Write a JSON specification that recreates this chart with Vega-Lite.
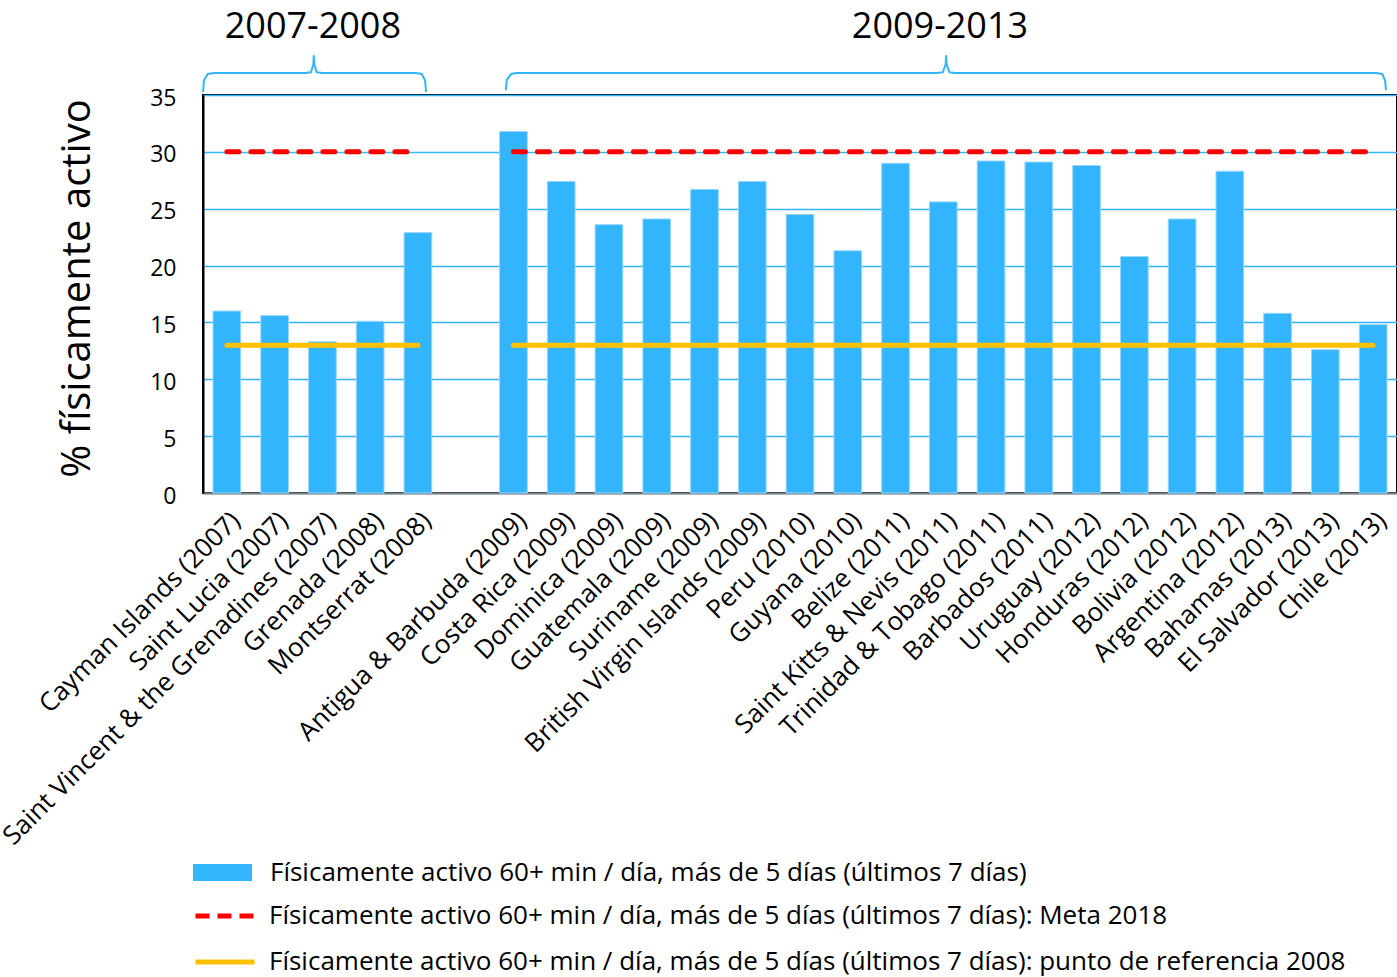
{
  "$schema": "https://vega.github.io/schema/vega-lite/v6.json",
  "width": 1194,
  "height": 398,
  "autosize": {"type": "none"},
  "padding": {"left": 203, "top": 95, "right": 0, "bottom": 484},
  "background": "white",
  "config": {
    "font": "Open Sans",
    "view": {"stroke": "#000000", "strokeWidth": 2},
    "axis": {"labelFont": "Open Sans", "titleFont": "Open Sans", "labelColor": "#000000", "titleColor": "#000000"},
    "legend": {
      "labelFont": "Open Sans",
      "labelFontSize": 26,
      "labelColor": "#000000",
      "labelLimit": 0,
      "labelOffset": 18,
      "symbolStrokeWidth": 5,
      "padding": 0
    }
  },
  "datasets": {
    "barras": [
      {"pais": "Cayman Islands (2007)", "valor": 16.0},
      {"pais": "Saint Lucia (2007)", "valor": 15.6},
      {"pais": "Saint Vincent & the Grenadines (2007)", "valor": 13.3},
      {"pais": "Grenada (2008)", "valor": 15.1},
      {"pais": "Montserrat (2008)", "valor": 22.9},
      {"pais": "Antigua & Barbuda (2009)", "valor": 31.8},
      {"pais": "Costa Rica (2009)", "valor": 27.4},
      {"pais": "Dominica (2009)", "valor": 23.6},
      {"pais": "Guatemala (2009)", "valor": 24.1},
      {"pais": "Suriname (2009)", "valor": 26.7},
      {"pais": "British Virgin Islands (2009)", "valor": 27.4},
      {"pais": "Peru (2010)", "valor": 24.5},
      {"pais": "Guyana (2010)", "valor": 21.3},
      {"pais": "Belize (2011)", "valor": 29.0},
      {"pais": "Saint Kitts & Nevis (2011)", "valor": 25.6},
      {"pais": "Trinidad & Tobago (2011)", "valor": 29.2},
      {"pais": "Barbados (2011)", "valor": 29.1},
      {"pais": "Uruguay (2012)", "valor": 28.8},
      {"pais": "Honduras (2012)", "valor": 20.8},
      {"pais": "Bolivia (2012)", "valor": 24.1},
      {"pais": "Argentina (2012)", "valor": 28.3},
      {"pais": "Bahamas (2013)", "valor": 15.8},
      {"pais": "El Salvador (2013)", "valor": 12.6},
      {"pais": "Chile (2013)", "valor": 14.8}
    ],
    "meta": [
      {"grupo": "a", "pais": "Cayman Islands (2007)", "valor": 30},
      {"grupo": "a", "pais": "Montserrat (2008)", "valor": 30},
      {"grupo": "b", "pais": "Antigua & Barbuda (2009)", "valor": 30},
      {"grupo": "b", "pais": "Chile (2013)", "valor": 30}
    ],
    "referencia": [
      {"grupo": "a", "pais": "Cayman Islands (2007)", "valor": 13},
      {"grupo": "a", "pais": "Montserrat (2008)", "valor": 13},
      {"grupo": "b", "pais": "Antigua & Barbuda (2009)", "valor": 13},
      {"grupo": "b", "pais": "Chile (2013)", "valor": 13}
    ],
    "llaves": [
      {"g": "a", "i": 1, "x": 0.0, "y": 35.25},
      {"g": "a", "i": 2, "x": 0.02, "y": 36.3},
      {"g": "a", "i": 3, "x": 0.1, "y": 36.85},
      {"g": "a", "i": 4, "x": 0.23, "y": 36.93},
      {"g": "a", "i": 5, "x": 2.14, "y": 36.93},
      {"g": "a", "i": 6, "x": 2.26, "y": 37.0},
      {"g": "a", "i": 7, "x": 2.31, "y": 37.7},
      {"g": "a", "i": 8, "x": 2.32, "y": 38.5},
      {"g": "a", "i": 9, "x": 2.33, "y": 37.7},
      {"g": "a", "i": 10, "x": 2.38, "y": 37.0},
      {"g": "a", "i": 11, "x": 2.5, "y": 36.93},
      {"g": "a", "i": 12, "x": 4.46, "y": 36.93},
      {"g": "a", "i": 13, "x": 4.58, "y": 36.85},
      {"g": "a", "i": 14, "x": 4.65, "y": 36.3},
      {"g": "a", "i": 15, "x": 4.67, "y": 35.25},
      {"g": "b", "i": 1, "x": 6.34, "y": 35.43},
      {"g": "b", "i": 2, "x": 6.36, "y": 36.3},
      {"g": "b", "i": 3, "x": 6.45, "y": 36.85},
      {"g": "b", "i": 4, "x": 6.57, "y": 36.93},
      {"g": "b", "i": 5, "x": 15.37, "y": 36.93},
      {"g": "b", "i": 6, "x": 15.49, "y": 37.0},
      {"g": "b", "i": 7, "x": 15.55, "y": 37.7},
      {"g": "b", "i": 8, "x": 15.56, "y": 38.5},
      {"g": "b", "i": 9, "x": 15.57, "y": 37.7},
      {"g": "b", "i": 10, "x": 15.63, "y": 37.0},
      {"g": "b", "i": 11, "x": 15.75, "y": 36.93},
      {"g": "b", "i": 12, "x": 24.56, "y": 36.93},
      {"g": "b", "i": 13, "x": 24.69, "y": 36.85},
      {"g": "b", "i": 14, "x": 24.75, "y": 36.3},
      {"g": "b", "i": 15, "x": 24.77, "y": 35.43}
    ],
    "periodos": [
      {"t": "2007-2008", "x": 2.3, "y": 40.95},
      {"t": "2009-2013", "x": 15.43, "y": 40.95}
    ]
  },
  "layer": [
    {
      "data": {"name": "barras"},
      "mark": {"type": "bar", "stroke": "#9ad6ff", "strokeWidth": 1},
      "encoding": {
        "x": {
          "field": "pais",
          "type": "nominal",
          "sort": null,
          "scale": {
            "type": "band",
            "domain": ["Cayman Islands (2007)", "Saint Lucia (2007)", "Saint Vincent & the Grenadines (2007)", "Grenada (2008)", "Montserrat (2008)", " ", "Antigua & Barbuda (2009)", "Costa Rica (2009)", "Dominica (2009)", "Guatemala (2009)", "Suriname (2009)", "British Virgin Islands (2009)", "Peru (2010)", "Guyana (2010)", "Belize (2011)", "Saint Kitts & Nevis (2011)", "Trinidad & Tobago (2011)", "Barbados (2011)", "Uruguay (2012)", "Honduras (2012)", "Bolivia (2012)", "Argentina (2012)", "Bahamas (2013)", "El Salvador (2013)", "Chile (2013)"],
            "paddingInner": 0.42,
            "paddingOuter": 0.21
          },
          "axis": {
            "title": null,
            "labelAngle": -45,
            "labelFontSize": 26,
            "labelPadding": 14,
            "labelLimit": 0,
            "ticks": false,
            "domainColor": "#808080",
            "domainWidth": 2,
            "grid": false
          }
        },
        "y": {
          "field": "valor",
          "type": "quantitative",
          "scale": {"domain": [0, 35], "nice": false},
          "axis": {
            "title": "% físicamente activo",
            "titleFontSize": 40,
            "titleFontWeight": "normal",
            "titleAngle": -90,
            "titleAlign": "center",
            "titleBaseline": "middle",
            "titleX": -126,
            "titleY": 193,
            "values": [0, 5, 10, 15, 20, 25, 30, 35],
            "labelFontSize": 23,
            "labelPadding": 27,
            "labelOffset": 3,
            "ticks": false,
            "domainColor": "#000000",
            "domainWidth": 2,
            "gridColor": "#33B5FE",
            "gridWidth": 1.5
          }
        },
        "fill": {
          "datum": "Físicamente activo 60+ min / día, más de 5 días (últimos 7 días)",
          "type": "nominal",
          "scale": {"range": ["#33B5FE"]},
          "legend": {
            "title": null,
            "orient": "none",
            "legendX": -10,
            "legendY": 748,
            "symbolType": "M-1,-0.29H1V0.29H-1Z",
            "symbolSize": 3481,
            "symbolStrokeWidth": 0,
            "symbolOpacity": 1
          }
        }
      }
    },
    {
      "data": {"name": "meta"},
      "mark": {"type": "line", "strokeWidth": 5, "strokeDash": [12, 12], "strokeCap": "round"},
      "encoding": {
        "x": {
          "field": "pais",
          "type": "nominal",
          "sort": null,
          "scale": {
            "type": "band",
            "domain": ["Cayman Islands (2007)", "Saint Lucia (2007)", "Saint Vincent & the Grenadines (2007)", "Grenada (2008)", "Montserrat (2008)", " ", "Antigua & Barbuda (2009)", "Costa Rica (2009)", "Dominica (2009)", "Guatemala (2009)", "Suriname (2009)", "British Virgin Islands (2009)", "Peru (2010)", "Guyana (2010)", "Belize (2011)", "Saint Kitts & Nevis (2011)", "Trinidad & Tobago (2011)", "Barbados (2011)", "Uruguay (2012)", "Honduras (2012)", "Bolivia (2012)", "Argentina (2012)", "Bahamas (2013)", "El Salvador (2013)", "Chile (2013)"],
            "paddingInner": 0.42,
            "paddingOuter": 0.21
          },
          "axis": null
        },
        "y": {"field": "valor", "type": "quantitative", "scale": {"domain": [0, 35], "nice": false}},
        "detail": {"field": "grupo"},
        "stroke": {
          "datum": "Físicamente activo 60+ min / día, más de 5 días (últimos 7 días): Meta 2018",
          "type": "nominal",
          "scale": {"range": ["#FF0000"]},
          "legend": {
            "title": null,
            "orient": "none",
            "legendX": -10,
            "legendY": 789,
            "symbolType": "stroke",
            "symbolSize": 3481,
            "symbolDash": [14, 8],
            "symbolStrokeWidth": 5,
            "labelOffset": 12
          }
        }
      }
    },
    {
      "data": {"name": "referencia"},
      "mark": {"type": "line", "strokeWidth": 5, "strokeCap": "round"},
      "encoding": {
        "x": {
          "field": "pais",
          "type": "nominal",
          "sort": null,
          "scale": {
            "type": "band",
            "domain": ["Cayman Islands (2007)", "Saint Lucia (2007)", "Saint Vincent & the Grenadines (2007)", "Grenada (2008)", "Montserrat (2008)", " ", "Antigua & Barbuda (2009)", "Costa Rica (2009)", "Dominica (2009)", "Guatemala (2009)", "Suriname (2009)", "British Virgin Islands (2009)", "Peru (2010)", "Guyana (2010)", "Belize (2011)", "Saint Kitts & Nevis (2011)", "Trinidad & Tobago (2011)", "Barbados (2011)", "Uruguay (2012)", "Honduras (2012)", "Bolivia (2012)", "Argentina (2012)", "Bahamas (2013)", "El Salvador (2013)", "Chile (2013)"],
            "paddingInner": 0.42,
            "paddingOuter": 0.21
          },
          "axis": null
        },
        "y": {"field": "valor", "type": "quantitative", "scale": {"domain": [0, 35], "nice": false}},
        "detail": {"field": "grupo"},
        "stroke": {
          "datum": "Físicamente activo 60+ min / día, más de 5 días (últimos 7 días): punto de referencia 2008",
          "type": "nominal",
          "scale": {"range": ["#FFC000"]},
          "legend": {
            "title": null,
            "orient": "none",
            "legendX": -10,
            "legendY": 835,
            "symbolType": "stroke",
            "symbolSize": 3481,
            "symbolStrokeWidth": 5,
            "labelOffset": 12
          }
        }
      }
    },
    {
      "data": {"name": "llaves"},
      "mark": {"type": "line", "stroke": "#33B5FE", "strokeWidth": 2, "clip": false},
      "encoding": {
        "x": {"field": "x", "type": "quantitative", "scale": {"domain": [0, 25], "nice": false, "zero": false}, "axis": null},
        "y": {"field": "y", "type": "quantitative", "scale": {"domain": [0, 35], "nice": false}},
        "detail": {"field": "g"},
        "order": {"field": "i", "type": "quantitative"}
      }
    },
    {
      "data": {"name": "periodos"},
      "mark": {"type": "text", "fontSize": 36, "font": "Open Sans", "color": "#000000", "align": "center", "baseline": "middle", "clip": false},
      "encoding": {
        "x": {"field": "x", "type": "quantitative", "scale": {"domain": [0, 25], "nice": false, "zero": false}, "axis": null},
        "y": {"field": "y", "type": "quantitative", "scale": {"domain": [0, 35], "nice": false}},
        "text": {"field": "t"}
      }
    }
  ],
  "resolve": {
    "scale": {"x": "independent", "stroke": "independent"},
    "axis": {"x": "independent"}
  }
}
